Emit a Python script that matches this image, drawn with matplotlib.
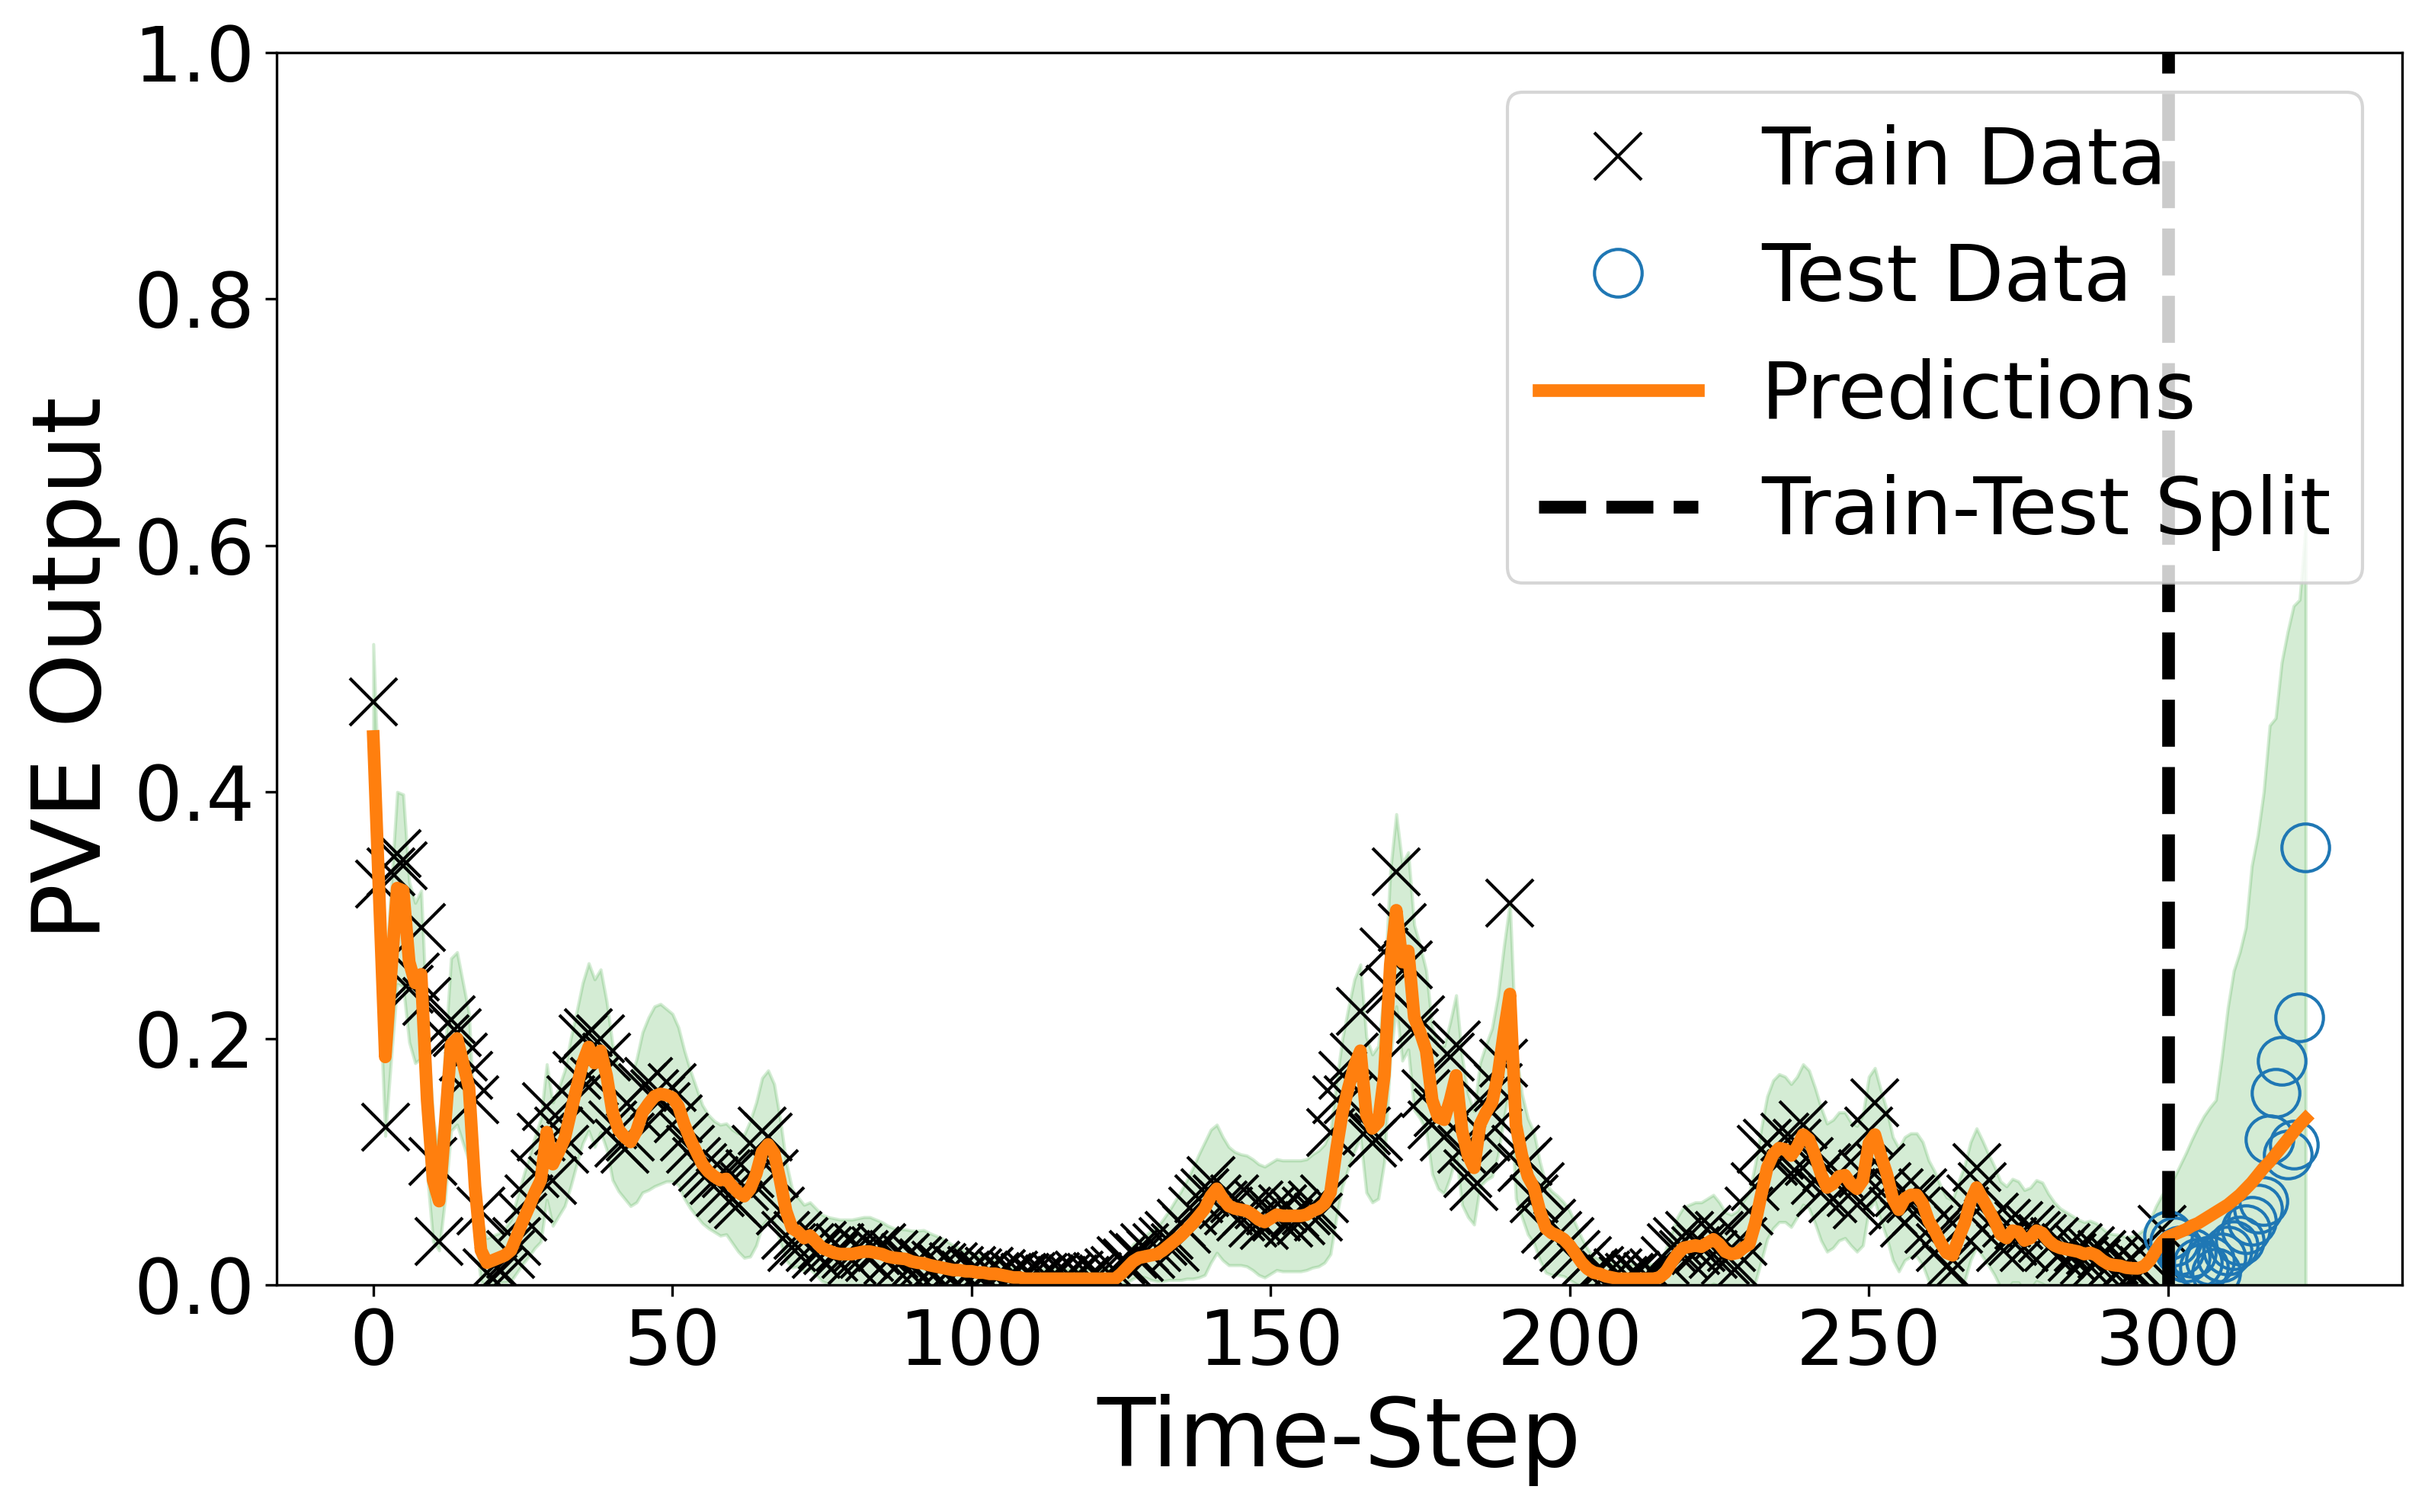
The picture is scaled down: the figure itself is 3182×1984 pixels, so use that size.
import numpy as np
import matplotlib.pyplot as plt

# observed PVE values, one per time-step
train_data = [
    .473, .325, .128, .335, .350, .340, .240, .250, .290, .230,
    .100, .035, .200, .215, .205, .185, .170, .150, .060, .010,
    .005, .012, .008, .025, .035, .055, .070, .090, .120, .145,
    .085, .125, .110, .150, .170, .200, .205, .165, .200, .185,
    .130, .115, .110, .120, .140, .160, .165, .155, .150, .145,
    .160, .135, .120, .110, .100, .095, .090, .085, .075, .090,
    .070, .065, .080, .090, .110, .125, .120, .090, .060, .040,
    .030, .040, .035, .030, .025, .032, .028, .022, .030, .025,
    .020, .030, .025, .022, .028, .030, .020, .025, .018, .022,
    .015, .020, .018, .012, .016, .014, .010, .015, .012, .008,
    .012, .010, .008, .011, .007, .009, .006, .008, .005, .006,
    .007, .004, .006, .005, .007, .004, .006, .005, .008, .004,
    .006, .007, .005, .010, .012, .020, .018, .025, .022, .030,
    .025, .030, .035, .040, .030, .050, .045, .060, .070, .075,
    .085, .070, .065, .060, .070, .055, .060, .050, .065, .048,
    .060, .055, .062, .050, .058, .052, .060, .065, .055, .070,
    .124, .150, .170, .150, .185, .222, .125, .115, .120, .270,
    .240, .335, .290, .260, .205, .215, .155, .130, .140, .120,
    .185, .195, .110, .090, .080, .150, .120, .140, .160, .180,
    .310, .110, .095, .100, .070, .080, .045, .050, .040, .030,
    .035, .025, .015, .020, .010, .012, .008, .005, .010, .004,
    .006, .008, .005, .007, .010, .004, .020, .030, .035, .025,
    .040, .028, .030, .045, .025, .040, .020, .030, .015, .035,
    .060, .080, .110, .115, .100, .105, .120, .090, .115, .130,
    .100, .085, .075, .095, .070, .090, .080, .075, .065, .090,
    .125, .148, .095, .080, .060, .075, .050, .070, .060, .075,
    .045, .040, .030, .015, .012, .045, .060, .070, .095, .080,
    .050, .055, .030, .050, .035, .048, .030, .045, .040, .038,
    .030, .035, .025, .030, .022, .030, .020, .028, .018, .025,
    .015, .020, .012, .018, .010, .015, .012, .020, .025, .045,
]

test_data = [
    .040, .035, .028, .022, .026, .018, .014, .020, .010, .022,
    .028, .032, .036, .045, .052, .062, .068, .118, .156, .182,
    .106, .114, .217, .355,
]

# model mean over train + test range
predictions = [
    .445, .315, .185, .255, .322, .320, .262, .245, .252, .150,
    .085, .068, .130, .195, .200, .180, .160, .080, .028, .018,
    .020, .022, .024, .028, .040, .052, .063, .075, .085, .124,
    .098, .108, .119, .140, .160, .180, .193, .180, .190, .170,
    .140, .126, .120, .116, .125, .140, .147, .153, .155, .154,
    .152, .145, .130, .118, .108, .098, .092, .088, .085, .086,
    .080, .075, .072, .078, .090, .108, .114, .107, .085, .060,
    .046, .043, .038, .040, .035, .030, .028, .026, .025, .025,
    .025, .026, .027, .027, .026, .025, .023, .022, .0215, .021,
    .019, .018, .0175, .016, .015, .014, .013, .012, .012, .011,
    .011, .010, .010, .009, .009, .008, .007, .006, .006, .005,
    .005, .005, .005, .005, .005, .005, .005, .005, .005, .005,
    .005, .005, .005, .005, .005, .009, .014, .019, .022, .023,
    .024, .025, .028, .032, .036, .040, .045, .050, .056, .062,
    .072, .078, .070, .064, .062, .061, .060, .057, .053, .051,
    .054, .057, .056, .056, .056, .056, .057, .060, .062, .066,
    .075, .110, .140, .160, .178, .190, .138, .127, .132, .170,
    .260, .304, .262, .271, .217, .205, .190, .150, .136, .134,
    .150, .170, .125, .105, .095, .130, .140, .148, .170, .205,
    .236, .130, .105, .088, .079, .060, .046, .042, .040, .037,
    .032, .025, .018, .013, .010, .009, .007, .006, .005, .005,
    .005, .005, .005, .005, .005, .006, .010, .018, .025, .030,
    .031, .032, .031, .034, .037, .033, .027, .025, .026, .030,
    .033, .050, .073, .095, .106, .111, .110, .105, .112, .122,
    .118, .105, .090, .079, .082, .088, .089, .082, .078, .085,
    .115, .122, .105, .090, .070, .061, .070, .073, .073, .066,
    .052, .044, .034, .026, .024, .038, .050, .068, .079, .070,
    .061, .052, .041, .038, .044, .043, .036, .038, .044, .042,
    .036, .032, .030, .029, .028, .027, .025, .026, .024, .020,
    .017, .016, .0155, .014, .0135, .0134, .015, .020, .028, .035,
    .039, .041, .043, .045, .048, .050, .053, .056, .059, .062,
    .065, .069, .073, .078, .083, .089, .095, .100, .106, .112,
    .118, .124, .130, .135,
]

# half-width of the uncertainty band
pred_std = [
    .075, .070, .064, .070, .078, .078, .065, .065, .068, .060,
    .050, .040, .060, .070, .070, .065, .060, .040, .025, .020,
    .020, .020, .022, .025, .030, .035, .040, .045, .050, .055,
    .050, .052, .055, .060, .062, .065, .068, .068, .066, .060,
    .055, .050, .050, .052, .058, .065, .070, .073, .073, .070,
    .068, .064, .060, .056, .052, .048, .046, .045, .045, .045,
    .046, .048, .050, .055, .058, .060, .060, .056, .050, .040,
    .032, .028, .027, .027, .027, .027, .027, .028, .028, .028,
    .028, .028, .028, .028, .027, .026, .025, .024, .024, .024,
    .025, .026, .027, .026, .025, .024, .022, .020, .018, .016,
    .015, .014, .013, .012, .011, .010, .008, .008, .008, .008,
    .008, .008, .008, .008, .008, .008, .008, .008, .008, .008,
    .008, .008, .008, .008, .008, .010, .012, .014, .015, .017,
    .020, .022, .025, .028, .032, .036, .040, .045, .050, .054,
    .054, .052, .050, .048, .046, .045, .045, .045, .045, .045,
    .045, .045, .045, .045, .045, .045, .045, .046, .047, .048,
    .050, .055, .060, .065, .070, .070, .063, .060, .062, .070,
    .076, .078, .080, .080, .075, .070, .065, .060, .058, .060,
    .063, .065, .060, .050, .046, .050, .055, .060, .065, .070,
    .074, .060, .050, .047, .045, .040, .036, .034, .032, .030,
    .028, .024, .020, .016, .013, .012, .012, .012, .012, .012,
    .012, .012, .012, .012, .012, .012, .018, .024, .030, .033,
    .034, .035, .036, .036, .036, .034, .032, .032, .034, .038,
    .042, .048, .054, .058, .060, .060, .059, .058, .057, .057,
    .056, .055, .054, .052, .052, .052, .051, .050, .051, .053,
    .054, .054, .053, .052, .050, .050, .050, .050, .050, .050,
    .049, .048, .046, .045, .045, .046, .047, .048, .048, .047,
    .045, .044, .043, .042, .042, .041, .041, .041, .041, .041,
    .038, .035, .032, .030, .028, .026, .026, .026, .026, .026,
    .025, .025, .025, .025, .026, .028, .030, .033, .036, .038,
    .041, .046, .054, .062, .070, .078, .084, .088, .091, .123,
    .160, .186, .197, .212, .257, .276, .305, .354, .354, .393,
    .412, .427, .426, .479,
]

n_train = len(train_data)
t_train = np.arange(n_train)
t_test = np.arange(n_train, n_train + len(test_data))
t_all = np.arange(len(predictions))
mu = np.array(predictions)
sd = np.array(pred_std)

fig, ax = plt.subplots(figsize=(3182 / 300, 1984 / 300), dpi=300)
fig.subplots_adjust(left=0.1141, right=0.9906, bottom=0.1502, top=0.9652)

ax.fill_between(t_all, mu - sd, mu + sd, color='tab:green', alpha=0.2)
ax.plot(t_train, train_data, 'kx', ms=15, label='Train Data')
ax.plot(t_test, test_data, 'o', color='tab:blue', mfc='none', ms=15, label='Test Data')
ax.plot(t_all, mu, color='tab:orange', lw=4, label='Predictions')
ax.axvline(n_train, color='k', ls='--', lw=4, label='Train-Test Split')

ax.set_ylim(0, 1)
ax.set_xlabel('Time-Step', fontsize=30)
ax.set_ylabel('PVE Output', fontsize=30)
ax.tick_params(labelsize=24)
ax.legend(loc='upper right', fontsize=25)

fig.savefig('out.png', dpi=300)
